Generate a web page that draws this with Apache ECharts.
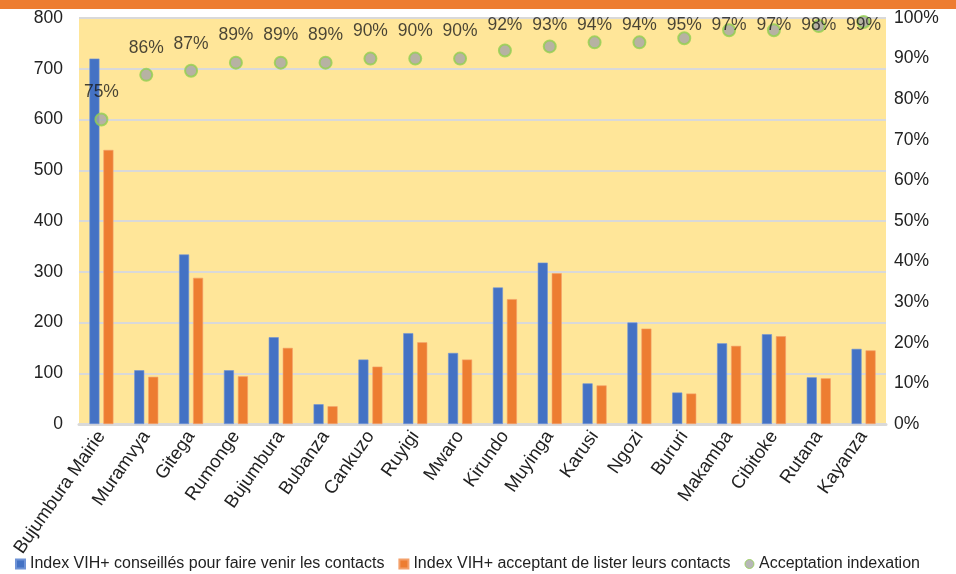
<!DOCTYPE html>
<html>
<head>
<meta charset="utf-8">
<script src="https://cdn.jsdelivr.net/npm/echarts@6/dist/echarts.min.js"></script>
<style>
  html, body { margin: 0; padding: 0; background: #ffffff; }
  #chart { width: 956px; height: 574px; }
</style>
</head>
<body>
<div id="chart"></div>
<script>
// Provinces
const categories = [
  'Bujumbura Mairie', 'Muramvya', 'Gitega', 'Rumonge', 'Bujumbura', 'Bubanza',
  'Cankuzo', 'Ruyigi', 'Mwaro', 'Kirundo', 'Muyinga', 'Karusi', 'Ngozi',
  'Bururi', 'Makamba', 'Cibitoke', 'Rutana', 'Kayanza'
];

// Index VIH+ conseillés pour faire venir les contacts
const conseilles = [720, 106, 334, 106, 171, 39, 127, 179, 140, 269, 318, 80, 200, 62, 159, 177, 92, 148];

// Index VIH+ acceptant de lister leurs contacts
const acceptant = [540, 93, 288, 94, 150, 35, 113, 161, 127, 246, 297, 76, 188, 60, 154, 173, 90, 145];

// Acceptation indexation (%)
const acceptation = [75, 86, 87, 89, 89, 89, 90, 90, 90, 92, 93, 94, 94, 95, 97, 97, 98, 99];

const seriesNames = [
  'Index VIH+ conseillés pour faire venir les contacts',
  'Index VIH+ acceptant de lister leurs contacts',
  'Acceptation indexation'
];

const FONT = "'Liberation Sans Narrow', 'Liberation Sans', sans-serif";
const GRID_TOP = 18;

const chart = echarts.init(document.getElementById('chart'), null, { renderer: 'canvas' });

chart.setOption({
  animation: false,
  backgroundColor: '#ffffff',
  textStyle: { fontFamily: FONT },
  graphic: [
    { type: 'rect', left: 0, top: 0, shape: { width: 956, height: 9 }, style: { fill: '#ed7d31' }, z: 10 }
  ],
  grid: {
    left: 79, right: 70, top: GRID_TOP, bottom: 150,
    show: true, backgroundColor: '#ffe699', borderWidth: 0
  },
  legend: {
    bottom: -3,
    left: 10,
    itemGap: 14,
    itemWidth: 9,
    itemHeight: 9,
    textStyle: { fontFamily: FONT, fontSize: 16, color: '#222' },
    data: [
      { name: seriesNames[0], icon: 'rect' },
      { name: seriesNames[1], icon: 'rect' },
      { name: seriesNames[2], icon: 'circle', itemStyle: { color: '#a5a5a5', borderColor: '#92d050', borderWidth: 1 } }
    ]
  },
  xAxis: {
    type: 'category',
    data: categories,
    axisLine: { lineStyle: { color: '#d9d9d9', width: 3 } },
    axisTick: { show: false },
    axisLabel: {
      rotate: 55, interval: 0, margin: 9,
      fontFamily: FONT, fontSize: 18.5, color: '#222'
    }
  },
  yAxis: [
    {
      type: 'value', min: 0, max: 800, interval: 100,
      axisLine: { show: false }, axisTick: { show: false },
      axisLabel: { fontFamily: FONT, fontSize: 17.5, color: '#222', margin: 16 },
      splitLine: { lineStyle: { color: '#d9d9d9', width: 2 } }
    },
    {
      type: 'value', min: 0, max: 100, interval: 10,
      axisLine: { show: false }, axisTick: { show: false },
      axisLabel: { fontFamily: FONT, fontSize: 17.5, color: '#222', margin: 8, formatter: '{value}%' },
      splitLine: { show: false }
    }
  ],
  series: [
    {
      name: seriesNames[0], type: 'bar', data: conseilles,
      barWidth: 10, barGap: '40%',
      itemStyle: { color: '#4472c4', borderColor: '#6f93d6', borderWidth: 0.6 }
    },
    {
      name: seriesNames[1], type: 'bar', data: acceptant,
      barWidth: 10, barGap: '40%',
      itemStyle: { color: '#ed7d31', borderColor: '#f3a06a', borderWidth: 0.6 }
    },
    {
      name: seriesNames[2], type: 'scatter', yAxisIndex: 1, data: acceptation,
      symbol: 'circle', symbolSize: 12,
      itemStyle: { color: '#a5a5a5', borderColor: '#92d050', borderWidth: 2 },
      label: {
        show: true, position: 'top', distance: 11,
        formatter: '{c}%', fontFamily: FONT, fontSize: 17.5, color: '#1a1a1a'
      },
      // keep the value labels inside the plot area near the top edge
      labelLayout: function (params) {
        const r = params.labelRect;
        return {
          x: r.x + r.width / 2,
          y: Math.max(r.y, GRID_TOP - 2),
          align: 'center',
          verticalAlign: 'top'
        };
      },
      z: 5
    }
  ]
});
</script>
</body>
</html>
